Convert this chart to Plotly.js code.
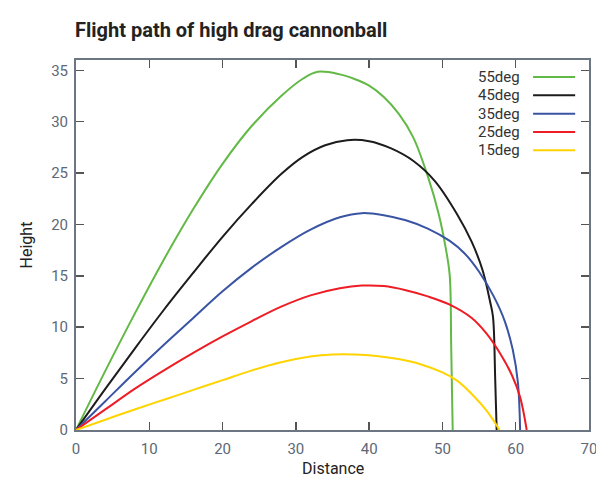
<!DOCTYPE html>
<html>
<head>
<meta charset="utf-8">
<script src="https://cdn.plot.ly/plotly-3.0.1.min.js"></script>
<style>html,body{margin:0;padding:0;background:#fff;}#chart{width:596px;height:480px;}</style>
</head>
<body>
<div id="chart"></div>
<script>
const seriesNames = ["55deg", "45deg", "35deg", "25deg", "15deg"];
const seriesColors = ["#62b946", "#1c1c1c", "#3a54a4", "#ee1d25", "#ffd400"];

const x55 = [0, 4, 8, 12, 16, 20, 24, 28, 31, 33, 36, 38, 40, 42, 44, 46, 48, 49.5, 50.5, 51, 51.2, 51.4];
const y55 = [0, 5.75, 11.3, 16.6, 21.5, 25.9, 29.6, 32.5, 34.2, 34.85, 34.6, 34.15, 33.5, 32.4, 30.8, 28.5, 24.7, 21, 17.5, 15, 8, 0];

const x45 = [0, 4, 8, 12, 16, 20, 24, 28, 31, 34, 37, 40, 43, 46, 49, 52, 54, 55.5, 56.5, 56.9, 57.2, 57.4];
const y45 = [0, 4, 7.9, 11.7, 15.3, 18.8, 22, 24.9, 26.6, 27.7, 28.2, 28.1, 27.4, 26.2, 24.2, 21, 18.3, 15.5, 12.5, 11, 5, 0];

const x35 = [0, 4, 8, 12, 16, 20, 24, 28, 32, 36, 39, 42, 45, 48, 51, 53, 55, 57, 58.5, 59.6, 60.3, 60.6];
const y35 = [0, 2.8, 5.6, 8.3, 10.9, 13.5, 15.8, 17.8, 19.5, 20.7, 21.1, 20.9, 20.4, 19.6, 18.4, 17.2, 15.4, 13, 10.6, 7.8, 4.6, 0];

const x25 = [0, 4, 8, 12, 16, 20, 24, 28, 32, 36, 39, 42, 45, 48, 51, 54, 56, 58, 59.5, 60.6, 61.5];
const y25 = [0, 2, 4, 5.8, 7.5, 9.1, 10.6, 12, 13.1, 13.8, 14.05, 14, 13.6, 13, 12.2, 10.9, 9.4, 7.3, 5.3, 3.2, 0];

const x15 = [0, 4, 8, 12, 16, 20, 24, 28, 32, 35, 38, 41, 44, 47, 50, 52, 54, 56, 57.8];
const y15 = [0, 1, 2, 2.95, 3.9, 4.85, 5.8, 6.6, 7.15, 7.35, 7.35, 7.2, 6.9, 6.4, 5.6, 4.8, 3.5, 1.9, 0];

const xs = [x55, x45, x35, x25, x15];
const ys = [y55, y45, y35, y25, y15];

const xTicks = [0, 10, 20, 30, 40, 50, 60, 70];
const yTicks = [0, 5, 10, 15, 20, 25, 30, 35];
const xTitle = "Distance";
const yTitle = "Height";

const traces = seriesNames.map((name, i) => ({
  x: xs[i], y: ys[i], type: "scatter", mode: "lines", name: name,
  line: {color: seriesColors[i], width: 2, shape: "spline", smoothing: 1},
  showlegend: false, hoverinfo: "skip"
}));

// custom legend (text right-aligned, sample line to the right)
const legTop = 0.954, legStep = 0.0495;
const annotations = seriesNames.map((name, i) => ({
  xref: "paper", yref: "paper", x: 0.869, y: legTop - i * legStep,
  xanchor: "right", yanchor: "middle", text: name, showarrow: false,
  font: {family: "Roboto, sans-serif", size: 15, color: "#333"}
}));
annotations.push({
  xref: "paper", yref: "paper", x: 0.5, y: -0.105, xanchor: "center", yanchor: "middle",
  text: xTitle, showarrow: false,
  font: {family: "Roboto, sans-serif", size: 16, color: "#222"}
});
const shapes = seriesNames.map((name, i) => ({
  type: "line", xref: "paper", yref: "paper",
  x0: 0.891, x1: 0.973, y0: legTop - i * legStep, y1: legTop - i * legStep,
  line: {color: seriesColors[i], width: 2}
}));

const axisCommon = {
  showline: true, mirror: "ticks", linecolor: "#6b7682", linewidth: 2,
  ticks: "inside", ticklen: 8, tickwidth: 1.5, tickcolor: "#555",
  showgrid: false, zeroline: false, ticklabeloverflow: "allow",
  tickfont: {family: "Roboto, sans-serif", size: 15, color: "#5d6876"}
};

const layout = {
  width: 596, height: 480,
  margin: {l: 76, r: 7, t: 60, b: 50},
  paper_bgcolor: "#fff", plot_bgcolor: "#fff",
  title: {
    text: "<b>Flight path of high drag cannonball</b>",
    font: {family: "Roboto, sans-serif", size: 20, color: "#222"},
    xref: "container", yref: "container", x: 75 / 596, xanchor: "left",
    y: 1 - 30 / 480, yanchor: "middle"
  },
  xaxis: Object.assign({}, axisCommon, {
    range: [0, 70], tickvals: xTicks, ticktext: xTicks.map(String),
    automargin: false, ticklabelstandoff: 4
  }),
  yaxis: Object.assign({}, axisCommon, {
    range: [0, 36], tickvals: yTicks, ticktext: yTicks.map(String),
    automargin: false, ticklabelstandoff: 3,
    title: {text: yTitle, standoff: 15, font: {family: "Roboto, sans-serif", size: 16, color: "#222"}}
  }),
  annotations: annotations,
  shapes: shapes,
  showlegend: false
};

Plotly.newPlot("chart", traces, layout, {displayModeBar: false, staticPlot: true});
</script>
</body>
</html>
